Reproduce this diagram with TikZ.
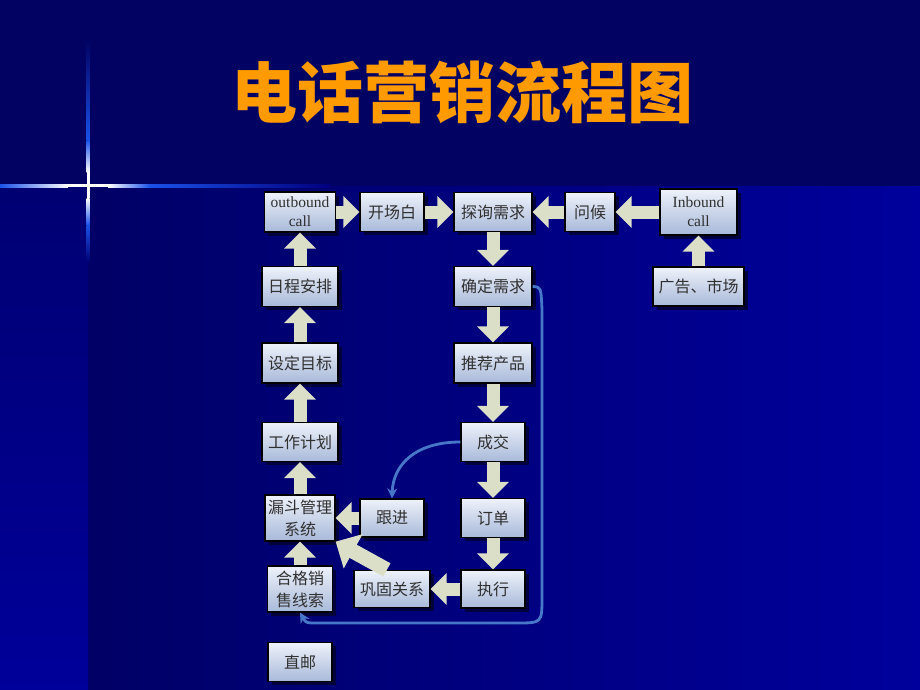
\documentclass[tikz,border=0pt]{standalone}
\usepackage{fontspec}
\setmainfont{Liberation Serif}
\newfontfamily\cjk{Noto Sans CJK SC}
\usetikzlibrary{arrows.meta,shadows}
\definecolor{topband}{HTML}{020262}
\definecolor{mainleft}{HTML}{000066}
\definecolor{mainright}{HTML}{00009C}
\definecolor{stripbot}{HTML}{00009A}
\definecolor{striptop}{HTML}{000072}
\definecolor{crossblue}{HTML}{1A50E8}
\definecolor{boxtop}{HTML}{EEF2FA}
\definecolor{boxbot}{HTML}{A8B9D9}
\definecolor{boxtext}{HTML}{303030}
\definecolor{shadowc}{HTML}{000033}
\definecolor{arrowc}{HTML}{DCDFC7}
\definecolor{curvec}{HTML}{4777C9}
\definecolor{titlec}{HTML}{FF9A00}
\begin{document}
\begin{tikzpicture}[x=1pt,y=-1pt,
  box/.style={draw=black, line width=1.3pt, top color=boxtop, bottom color=boxbot,
    text=boxtext, font=\cjk\fontsize{16}{22}\selectfont, inner sep=0pt, align=center,
    drop shadow={shadow xshift=3.5pt, shadow yshift=-3.5pt, fill=shadowc, opacity=0.85}},
  engbox/.style={box, font=\fontsize{15.5}{19}\selectfont},
  blk/.style={draw=arrowc, line width=13pt, -{Triangle[length=16pt,width=31pt]}},
  bigblk/.style={draw=arrowc, line width=15pt, -{Triangle[length=20pt,width=38pt]}},
  curve/.style={draw=curvec, line width=2.8pt, -{Stealth[length=10pt,width=10pt]}}
]
\useasboundingbox (0,0) rectangle (920,690);
% background
\fill[topband] (0,0) rectangle (920,690);
\shade[left color=mainleft, right color=mainright] (88,186) rectangle (920,690);
\shade[top color=striptop, bottom color=stripbot] (0,186) rectangle (88,690);
% boundary line and cross
\shade[left color=crossblue, right color=mainright!80!black] (150,184) rectangle (330,187);
\shade[left color=crossblue, right color=white] (0,184) rectangle (68,187);
\fill[white] (68,184) rectangle (108,187);
\shade[left color=white, right color=crossblue] (108,184) rectangle (150,187);
\shade[top color=topband, bottom color=crossblue] (86.5,40) rectangle (89.5,140);
\shade[top color=crossblue, bottom color=white] (86.5,140) rectangle (89.5,172);
\fill[white] (86.5,172) rectangle (89.5,198);
\shade[top color=white, bottom color=crossblue] (86.5,198) rectangle (89.5,225);
\shade[top color=crossblue, bottom color=striptop] (86.5,225) rectangle (89.5,262);
% title
\node[text=titlec, font=\cjk\bfseries\fontsize{66}{70}\selectfont] (title) at (462,92) {电话营销流程图};
% boxes
\node[engbox, minimum width=71pt, minimum height=40pt] (ob) at (300,212) {outbound\\call};
\node[box, minimum width=64pt, minimum height=39pt] (kc) at (392,212) {开场白};
\node[box, minimum width=78pt, minimum height=39pt] (tx) at (493,212) {探询需求};
\node[box, minimum width=50pt, minimum height=39pt] (wh) at (590,212) {问候};
\node[engbox, minimum width=77pt, minimum height=46pt] (ib) at (698.5,212) {Inbound\\call};
\node[box, minimum width=91pt, minimum height=39pt] (gg) at (698.5,286.5) {广告、市场};
\node[box, minimum width=76pt, minimum height=40pt] (rc) at (300,286.5) {日程安排};
\node[box, minimum width=78pt, minimum height=40pt] (qd) at (493,286.5) {确定需求};
\node[box, minimum width=76pt, minimum height=40pt] (sd) at (300,363) {设定目标};
\node[box, minimum width=78pt, minimum height=40pt] (tj) at (493,363) {推荐产品};
\node[box, minimum width=76pt, minimum height=39pt] (gz) at (300,442) {工作计划};
\node[box, minimum width=64pt, minimum height=39pt] (cj) at (493,442) {成交};
\node[box, minimum width=70pt, minimum height=46pt] (ld) at (300,518) {漏斗管理\\系统};
\node[box, minimum width=64pt, minimum height=38pt] (gj) at (392,518) {跟进};
\node[box, minimum width=64pt, minimum height=39pt] (dd) at (493,518) {订单};
\node[box, minimum width=65pt, minimum height=46pt] (hg) at (300,589) {合格销\\售线索};
\node[box, minimum width=76pt, minimum height=37pt] (gx) at (392,589) {巩固关系};
\node[box, minimum width=64pt, minimum height=38pt] (zx) at (493,589) {执行};
\node[box, minimum width=64pt, minimum height=39pt] (zy) at (300,662) {直邮};
% block arrows
\draw[blk] (ob.east) -- (kc.west);
\draw[blk] (kc.east) -- (tx.west);
\draw[blk] (wh.west) -- (tx.east);
\draw[blk] (ib.west) -- (wh.east);
\draw[blk] (gg.north) -- (ib.south);
\draw[blk] (tx.south) -- (qd.north);
\draw[blk] (qd.south) -- (tj.north);
\draw[blk] (tj.south) -- (cj.north);
\draw[blk] (cj.south) -- (dd.north);
\draw[blk] (dd.south) -- (zx.north);
\draw[blk] (zx.west) -- (gx.east);
\draw[blk] (gj.west) -- (ld.east);
\draw[blk] (hg.north) -- (ld.south);
\draw[blk] (ld.north) -- (gz.south);
\draw[blk] (gz.north) -- (sd.south);
\draw[blk] (sd.north) -- (rc.south);
\draw[blk] (rc.north) -- (ob.south);
\draw[bigblk] (gx.105) -- (ld.south east);
% curved connectors
\draw[curve] (cj.west) .. controls (415,442) and (393,465) .. (gj.north);
\draw[curve] (qd.east) .. controls (541,287) .. (542,310) -- (542,597)
  .. controls (542,623) .. (516,623) -- (318,623) .. controls (306,623) .. (hg.south);
\end{tikzpicture}
\end{document}
